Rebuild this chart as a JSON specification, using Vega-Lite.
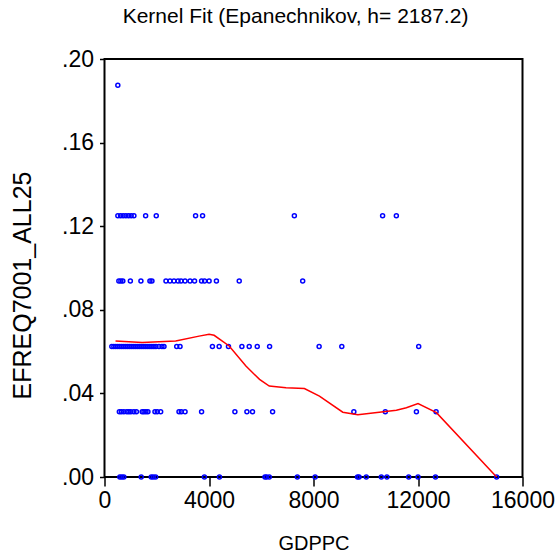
{
  "$schema": "https://vega.github.io/schema/vega-lite/v6.json",
  "width": 418,
  "height": 418,
  "autosize": {"type": "none"},
  "padding": {"left": 104.5, "top": 59, "right": 36.5, "bottom": 83},
  "background": "white",
  "config": {
    "font": "Liberation Sans",
    "view": {"stroke": "black", "strokeWidth": 2},
    "axis": {"grid": false, "domain": false, "tickColor": "black", "labelColor": "black", "titleColor": "black", "labelFont": "Liberation Sans", "titleFont": "Liberation Sans", "titleFontWeight": "normal"}
  },
  "title": {"text": "Kernel Fit (Epanechnikov, h= 2187.2)", "fontSize": 21, "fontWeight": "normal", "font": "Liberation Sans", "color": "black", "offset": 21, "dx": -18},
  "datasets": {
    "pts": [
      {"GDPPC": 510, "EFREQ": 0.1875},
      {"GDPPC": 511, "EFREQ": 0.125}, {"GDPPC": 614, "EFREQ": 0.125}, {"GDPPC": 714, "EFREQ": 0.125}, {"GDPPC": 818, "EFREQ": 0.125}, {"GDPPC": 921, "EFREQ": 0.125}, {"GDPPC": 1021, "EFREQ": 0.125}, {"GDPPC": 1125, "EFREQ": 0.125}, {"GDPPC": 1574, "EFREQ": 0.125}, {"GDPPC": 1981, "EFREQ": 0.125}, {"GDPPC": 3486, "EFREQ": 0.125}, {"GDPPC": 3754, "EFREQ": 0.125}, {"GDPPC": 7267, "EFREQ": 0.125}, {"GDPPC": 10645, "EFREQ": 0.125}, {"GDPPC": 11171, "EFREQ": 0.125},
      {"GDPPC": 549, "EFREQ": 0.09375}, {"GDPPC": 626, "EFREQ": 0.09375}, {"GDPPC": 702, "EFREQ": 0.09375}, {"GDPPC": 990, "EFREQ": 0.09375}, {"GDPPC": 1394, "EFREQ": 0.09375}, {"GDPPC": 1739, "EFREQ": 0.09375}, {"GDPPC": 1816, "EFREQ": 0.09375}, {"GDPPC": 2353, "EFREQ": 0.09375}, {"GDPPC": 2507, "EFREQ": 0.09375}, {"GDPPC": 2660, "EFREQ": 0.09375}, {"GDPPC": 2814, "EFREQ": 0.09375}, {"GDPPC": 2929, "EFREQ": 0.09375}, {"GDPPC": 3083, "EFREQ": 0.09375}, {"GDPPC": 3275, "EFREQ": 0.09375}, {"GDPPC": 3447, "EFREQ": 0.09375}, {"GDPPC": 3716, "EFREQ": 0.09375}, {"GDPPC": 3831, "EFREQ": 0.09375}, {"GDPPC": 4004, "EFREQ": 0.09375}, {"GDPPC": 4284, "EFREQ": 0.09375}, {"GDPPC": 5157, "EFREQ": 0.09375}, {"GDPPC": 7586, "EFREQ": 0.09375},
      {"GDPPC": 280, "EFREQ": 0.0625}, {"GDPPC": 357, "EFREQ": 0.0625}, {"GDPPC": 434, "EFREQ": 0.0625}, {"GDPPC": 511, "EFREQ": 0.0625}, {"GDPPC": 587, "EFREQ": 0.0625}, {"GDPPC": 664, "EFREQ": 0.0625}, {"GDPPC": 741, "EFREQ": 0.0625}, {"GDPPC": 818, "EFREQ": 0.0625}, {"GDPPC": 894, "EFREQ": 0.0625}, {"GDPPC": 971, "EFREQ": 0.0625}, {"GDPPC": 1048, "EFREQ": 0.0625}, {"GDPPC": 1125, "EFREQ": 0.0625}, {"GDPPC": 1201, "EFREQ": 0.0625}, {"GDPPC": 1278, "EFREQ": 0.0625}, {"GDPPC": 1355, "EFREQ": 0.0625}, {"GDPPC": 1432, "EFREQ": 0.0625}, {"GDPPC": 1508, "EFREQ": 0.0625}, {"GDPPC": 1585, "EFREQ": 0.0625}, {"GDPPC": 1662, "EFREQ": 0.0625}, {"GDPPC": 1739, "EFREQ": 0.0625}, {"GDPPC": 1815, "EFREQ": 0.0625}, {"GDPPC": 1892, "EFREQ": 0.0625}, {"GDPPC": 1969, "EFREQ": 0.0625}, {"GDPPC": 2085, "EFREQ": 0.0625}, {"GDPPC": 2200, "EFREQ": 0.0625}, {"GDPPC": 2277, "EFREQ": 0.0625}, {"GDPPC": 2764, "EFREQ": 0.0625}, {"GDPPC": 2891, "EFREQ": 0.0625}, {"GDPPC": 4131, "EFREQ": 0.0625}, {"GDPPC": 4388, "EFREQ": 0.0625}, {"GDPPC": 4745, "EFREQ": 0.0625}, {"GDPPC": 5259, "EFREQ": 0.0625}, {"GDPPC": 5539, "EFREQ": 0.0625}, {"GDPPC": 5846, "EFREQ": 0.0625}, {"GDPPC": 6319, "EFREQ": 0.0625}, {"GDPPC": 8215, "EFREQ": 0.0625}, {"GDPPC": 9083, "EFREQ": 0.0625}, {"GDPPC": 12027, "EFREQ": 0.0625},
      {"GDPPC": 568, "EFREQ": 0.03125}, {"GDPPC": 645, "EFREQ": 0.03125}, {"GDPPC": 741, "EFREQ": 0.03125}, {"GDPPC": 856, "EFREQ": 0.03125}, {"GDPPC": 933, "EFREQ": 0.03125}, {"GDPPC": 1010, "EFREQ": 0.03125}, {"GDPPC": 1125, "EFREQ": 0.03125}, {"GDPPC": 1221, "EFREQ": 0.03125}, {"GDPPC": 1443, "EFREQ": 0.03125}, {"GDPPC": 1509, "EFREQ": 0.03125}, {"GDPPC": 1586, "EFREQ": 0.03125}, {"GDPPC": 1662, "EFREQ": 0.03125}, {"GDPPC": 1931, "EFREQ": 0.03125}, {"GDPPC": 2019, "EFREQ": 0.03125}, {"GDPPC": 2150, "EFREQ": 0.03125}, {"GDPPC": 2852, "EFREQ": 0.03125}, {"GDPPC": 2941, "EFREQ": 0.03125}, {"GDPPC": 3083, "EFREQ": 0.03125}, {"GDPPC": 3716, "EFREQ": 0.03125}, {"GDPPC": 4991, "EFREQ": 0.03125}, {"GDPPC": 5451, "EFREQ": 0.03125}, {"GDPPC": 5666, "EFREQ": 0.03125}, {"GDPPC": 6434, "EFREQ": 0.03125}, {"GDPPC": 9544, "EFREQ": 0.03125}, {"GDPPC": 10749, "EFREQ": 0.03125}, {"GDPPC": 11939, "EFREQ": 0.03125}, {"GDPPC": 12692, "EFREQ": 0.03125},
      {"GDPPC": 587, "EFREQ": 0}, {"GDPPC": 664, "EFREQ": 0}, {"GDPPC": 741, "EFREQ": 0}, {"GDPPC": 1405, "EFREQ": 0}, {"GDPPC": 1789, "EFREQ": 0}, {"GDPPC": 1866, "EFREQ": 0}, {"GDPPC": 1958, "EFREQ": 0}, {"GDPPC": 3824, "EFREQ": 0}, {"GDPPC": 4400, "EFREQ": 0}, {"GDPPC": 6142, "EFREQ": 0}, {"GDPPC": 6204, "EFREQ": 0}, {"GDPPC": 6307, "EFREQ": 0}, {"GDPPC": 7382, "EFREQ": 0}, {"GDPPC": 8062, "EFREQ": 0}, {"GDPPC": 9686, "EFREQ": 0}, {"GDPPC": 9743, "EFREQ": 0}, {"GDPPC": 10020, "EFREQ": 0}, {"GDPPC": 10596, "EFREQ": 0}, {"GDPPC": 10811, "EFREQ": 0}, {"GDPPC": 11644, "EFREQ": 0}, {"GDPPC": 12001, "EFREQ": 0}, {"GDPPC": 12669, "EFREQ": 0}, {"GDPPC": 15010, "EFREQ": 0}
    ],
    "fit": [
      {"GDPPC": 422, "EFREQ": 0.0651}, {"GDPPC": 1443, "EFREQ": 0.0643}, {"GDPPC": 2726, "EFREQ": 0.0651}, {"GDPPC": 3620, "EFREQ": 0.0674}, {"GDPPC": 4004, "EFREQ": 0.0683}, {"GDPPC": 4196, "EFREQ": 0.0678}, {"GDPPC": 4772, "EFREQ": 0.0627}, {"GDPPC": 5413, "EFREQ": 0.0531}, {"GDPPC": 5934, "EFREQ": 0.0467}, {"GDPPC": 6307, "EFREQ": 0.0435}, {"GDPPC": 6949, "EFREQ": 0.0427}, {"GDPPC": 7651, "EFREQ": 0.0423}, {"GDPPC": 8227, "EFREQ": 0.0387}, {"GDPPC": 9121, "EFREQ": 0.031}, {"GDPPC": 9697, "EFREQ": 0.0298}, {"GDPPC": 11171, "EFREQ": 0.0319}, {"GDPPC": 11555, "EFREQ": 0.0331}, {"GDPPC": 12001, "EFREQ": 0.0351}, {"GDPPC": 12707, "EFREQ": 0.0308}, {"GDPPC": 15010, "EFREQ": 0.0}
    ]
  },
  "encoding": {
    "x": {"field": "GDPPC", "type": "quantitative", "scale": {"domain": [0, 16000], "nice": false, "zero": false},
      "axis": {"title": "GDPPC", "values": [0, 4000, 8000, 12000, 16000], "format": "d", "labelFontSize": 23, "titleFontSize": 20, "tickSize": 9, "tickWidth": 1.5, "labelPadding": 3, "titlePadding": 21, "labelFlush": false, "labelOverlap": false}},
    "y": {"field": "EFREQ", "type": "quantitative", "scale": {"domain": [0, 0.2], "nice": false, "zero": false},
      "axis": {"title": "EFREQ7001_ALL25", "values": [0, 0.04, 0.08, 0.12, 0.16, 0.2], "labelExpr": "replace(format(datum.value, '.2f'), '0.', '.')", "labelFontSize": 23, "titleFontSize": 25, "titleX": -82, "titleY": 226, "titleBaseline": "middle", "tickSize": 5, "tickWidth": 1.5, "labelPadding": 6, "labelFlush": false, "labelOverlap": false}}
  },
  "layer": [
    {"data": {"name": "pts"}, "mark": {"type": "point", "shape": "circle", "filled": false, "color": "#0000ff", "size": 16, "strokeWidth": 1.5, "opacity": 1}},
    {"data": {"name": "fit"}, "mark": {"type": "line", "color": "#ff0000", "strokeWidth": 1.5}}
  ]
}
